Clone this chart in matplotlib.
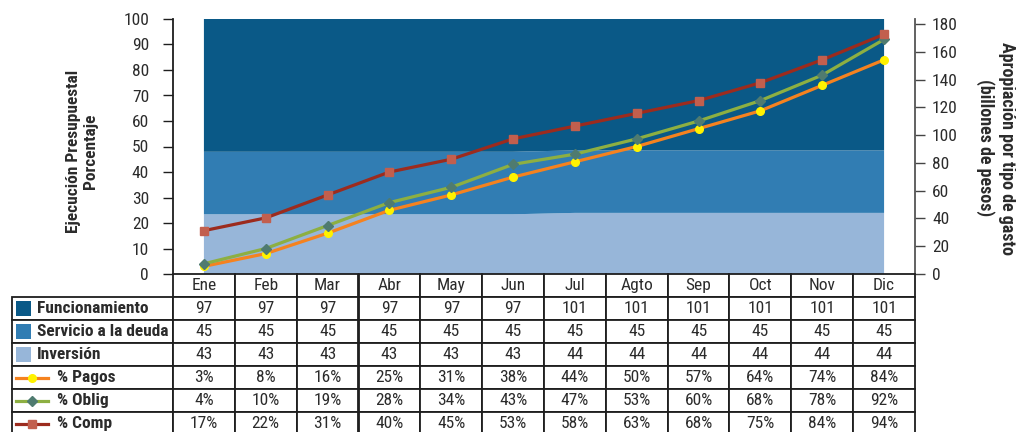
import matplotlib.pyplot as plt
from matplotlib.table import Table
from matplotlib.patches import Rectangle
from matplotlib.lines import Line2D
from matplotlib.font_manager import FontProperties

familia = ['Roboto Condensed', 'DejaVu Sans']
plt.rcParams['font.family'] = familia

meses = ["Ene", "Feb", "Mar", "Abr", "May", "Jun", "Jul", "Agto", "Sep", "Oct", "Nov", "Dic"]

# apropiacion por tipo de gasto (billones de pesos)
funcionamiento = [97, 97, 97, 97, 97, 97, 101, 101, 101, 101, 101, 101]
servicio_deuda = [45, 45, 45, 45, 45, 45, 45, 45, 45, 45, 45, 45]
inversion = [43, 43, 43, 43, 43, 43, 44, 44, 44, 44, 44, 44]

# ejecucion acumulada (%)
pagos = [3, 8, 16, 25, 31, 38, 44, 50, 57, 64, 74, 84]
oblig = [4, 10, 19, 28, 34, 43, 47, 53, 60, 68, 78, 92]
comp = [17, 22, 31, 40, 45, 53, 58, 63, 68, 75, 84, 94]

c_func = '#0A5987'
c_deuda = '#317DB3'
c_inv = '#97B6D9'
c_pagos, m_pagos = '#F5821F', '#FFF200'
c_oblig, m_oblig = '#8DAF42', '#4F7B70'
c_comp, m_comp = '#9C2B1E', '#C25F4E'
borde = '#1E1E1E'
texto = '#2B2B2B'
fs = 12.5

W, H = 1016, 432
fig = plt.figure(figsize=(W / 100, H / 100), dpi=100)

# plot area in pixels
L, R, T, B = 173, 915, 19, 274
ax = fig.add_axes([L / W, 1 - B / H, (R - L) / W, (B - T) / H])
ax2 = ax.twinx()
ax.set_zorder(ax2.get_zorder() + 1)
ax.patch.set_visible(False)

x = list(range(len(meses)))
ax2.stackplot(x, inversion, servicio_deuda, funcionamiento,
              colors=[c_inv, c_deuda, c_func], linewidth=0)
ax2.set_ylim(0, 180 * (B - T) / 250)
ax2.set_yticks(range(0, 181, 20))

ax.plot(x, pagos, color=c_pagos, lw=2.3, marker='o', ms=5.5,
        mfc=m_pagos, mec=m_pagos, zorder=3)
ax.plot(x, oblig, color=c_oblig, lw=2.3, marker='D', ms=5.5,
        mfc=m_oblig, mec=m_oblig, zorder=4)
ax.plot(x, comp, color=c_comp, lw=2.3, marker='s', ms=6,
        mfc=m_comp, mec=m_comp, zorder=5)
ax.set_ylim(0, 100)
ax.set_yticks(range(0, 101, 10))
ax.set_xlim(-0.5, len(meses) - 0.5)
ax.set_xticks([])

for a in (ax, ax2):
    for s in a.spines.values():
        s.set_visible(False)
ax.tick_params(axis='y', direction='out', length=7.2, width=1.0,
               color=borde, labelcolor=texto, labelsize=fs, pad=10)
ax2.tick_params(axis='y', direction='out', length=7.2, width=1.0,
                color='#444444', labelcolor=texto, labelsize=fs, pad=5)
ax.spines['left'].set_visible(True)
ax.spines['left'].set_color(borde)
ax.spines['left'].set_linewidth(1.3)
ax2.spines['right'].set_visible(True)
ax2.spines['right'].set_color('#555555')
ax2.spines['right'].set_linewidth(1.3)

fig.text(82 / W, 1 - 151 / H, "Ejecución Presupuestal\nPorcentaje", rotation=90,
         ha='center', va='center', ma='center', fontsize=12.5,
         fontweight='bold', color=texto, linespacing=1.2)
fig.text(996 / W, 1 - 148 / H, "Apropiación por tipo de gasto\n(billones de pesos)",
         rotation=270, ha='center', va='center', ma='center', fontsize=13,
         fontweight='bold', color=texto, linespacing=1.2)


def ax_x(px):
    return (px - L) / (R - L)


def ax_y(py):
    return (B - py) / (B - T)


# data table under the plot; bbox covers the month columns only
lab_w = 161 / (R - L)
col_w = 1 / len(meses)
row_h = 23 / (B - T)
n_rows = 7
tabla = Table(ax, bbox=[0, -n_rows * row_h, 1, n_rows * row_h])
fp = FontProperties(family=familia, size=fs)

for j, m in enumerate(meses):
    tabla.add_cell(0, j, width=col_w, height=row_h, text=m, loc='center',
                   fontproperties=fp, facecolor='white', edgecolor=borde)

filas = [
    ("Funcionamiento", [str(v) for v in funcionamiento]),
    ("Servicio a la deuda", [str(v) for v in servicio_deuda]),
    ("Inversión", [str(v) for v in inversion]),
    ("% Pagos", [f"{v}%" for v in pagos]),
    ("% Oblig", [f"{v}%" for v in oblig]),
    ("% Comp", [f"{v}%" for v in comp]),
]
for i, (nombre, vals) in enumerate(filas, start=1):
    tabla.add_cell(i, -1, width=lab_w, height=row_h, text='',
                   facecolor='white', edgecolor=borde)
    for j, v in enumerate(vals):
        tabla.add_cell(i, j, width=col_w, height=row_h, text=v, loc='center',
                       fontproperties=fp, facecolor='white', edgecolor=borde)
tabla.auto_set_font_size(False)
tabla.set_fontsize(fs)
for cell in tabla.get_celld().values():
    cell.set_linewidth(1.3)
    cell.get_text().set_color(texto)
ax.add_table(tabla)

# legend keys inside the label column
claves = [('patch', c_func, None), ('patch', c_deuda, None), ('patch', c_inv, None),
          ('line', c_pagos, ('o', m_pagos, 5.5)), ('line', c_oblig, ('D', m_oblig, 5.5)),
          ('line', c_comp, ('s', m_comp, 6))]
for i, ((nombre, _), (tipo, color, mk)) in enumerate(zip(filas, claves), start=1):
    yc = B + (i + 0.5) * 23
    if tipo == 'patch':
        ax.add_patch(Rectangle((ax_x(16), ax_y(yc + 7.5)), 15 / (R - L), 15 / (B - T),
                               transform=ax.transAxes, facecolor=color,
                               edgecolor='none', clip_on=False, zorder=6))
        tx = 37
    else:
        ax.add_line(Line2D([ax_x(16), ax_x(48)], [ax_y(yc), ax_y(yc)],
                           transform=ax.transAxes, color=color, lw=2.3,
                           clip_on=False, zorder=6))
        ax.add_line(Line2D([ax_x(32)], [ax_y(yc)], transform=ax.transAxes,
                           marker=mk[0], ms=mk[2], mfc=mk[1], mec=mk[1],
                           linestyle='none', clip_on=False, zorder=7))
        tx = 57
    ax.text(ax_x(tx), ax_y(yc), nombre, transform=ax.transAxes, ha='left',
            va='center', fontsize=fs, fontweight='bold', color=texto,
            clip_on=False, zorder=7)

fig.savefig('out.png', dpi=100)
